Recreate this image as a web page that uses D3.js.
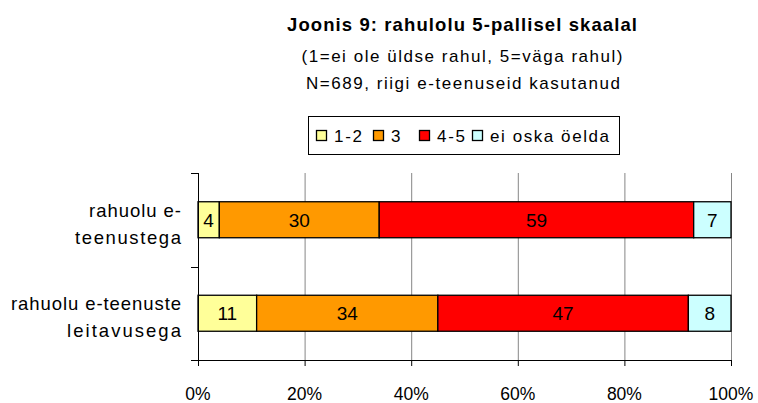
<!DOCTYPE html>
<html>
<head>
<meta charset="utf-8">
<script src="https://cdn.jsdelivr.net/npm/d3@7"></script>
<style>
  body { margin: 0; background: #fff; }
  text { font-family: "Liberation Sans", Arial, sans-serif; fill: #000; }
</style>
</head>
<body>
<svg id="chart" width="758" height="403"></svg>
<script>
var categories = ["rahuolu e-teenustega", "rahuolu e-teenuste leitavusega"];
var categoryLines = [["rahuolu e-", "teenustega"], ["rahuolu e-teenuste", "leitavusega"]];
var seriesNames = ["1-2", "3", "4-5", "ei oska öelda"];
var seriesColors = ["#ffff99", "#ff9900", "#ff0000", "#ccffff"];
var values = [
  [4, 30, 59, 7],
  [11, 34, 47, 8]
];
var xTicks = [0, 20, 40, 60, 80, 100];

var svg = d3.select('#chart');

var x = d3.scaleLinear().domain([0, 100]).range([198, 731]);
var y = d3.scaleBand().domain(categories).range([173, 360])
  .paddingInner(0.615).paddingOuter(0.3075);

// stretch text a bit, Excel renders with loose spacing
function spread(sel, w) {
  sel.attr('textLength', w).attr('lengthAdjust', 'spacing');
}

// titles
svg.append('text')
  .attr('x', 462).attr('y', 31)
  .attr('text-anchor', 'middle')
  .style('font-size', '18.5px').style('font-weight', 'bold')
  .text('Joonis 9: rahulolu 5-pallisel skaalal')
  .call(spread, 350);
svg.append('text')
  .attr('x', 462).attr('y', 62)
  .attr('text-anchor', 'middle')
  .style('font-size', '17px')
  .text('(1=ei ole üldse rahul, 5=väga rahul)')
  .call(spread, 321);
svg.append('text')
  .attr('x', 463).attr('y', 89)
  .attr('text-anchor', 'middle')
  .style('font-size', '17px')
  .text('N=689, riigi e-teenuseid kasutanud')
  .call(spread, 314);

// gridlines
svg.append('g')
  .selectAll('line')
  .data(xTicks.slice(1))
  .enter().append('line')
  .attr('x1', function(d) { return x(d) + 0.5; })
  .attr('x2', function(d) { return x(d) + 0.5; })
  .attr('y1', 173).attr('y2', 360)
  .style('stroke', '#868686').style('stroke-width', 1);

// bars
var rows = svg.append('g').selectAll('g')
  .data(values)
  .enter().append('g');

rows.each(function(row, i) {
  var start = 0;
  var segs = row.map(function(v, j) {
    var s = { x0: start, x1: start + v, v: v, j: j };
    start += v;
    return s;
  });
  var g = d3.select(this);
  g.selectAll('rect')
    .data(segs)
    .enter().append('rect')
    .attr('x', function(d) { return x(d.x0); })
    .attr('width', function(d) { return x(d.x1) - x(d.x0); })
    .attr('y', y(categories[i]))
    .attr('height', y.bandwidth())
    .style('fill', function(d) { return seriesColors[d.j]; })
    .style('stroke', '#000').style('stroke-width', 1.3);
  g.selectAll('text')
    .data(segs)
    .enter().append('text')
    .attr('x', function(d) { return (x(d.x0) + x(d.x1)) / 2; })
    .attr('y', y(categories[i]) + y.bandwidth() / 2 + 7)
    .attr('text-anchor', 'middle')
    .style('font-size', '19px')
    .text(function(d) { return d.v; });
});

// axes
svg.append('line')
  .attr('x1', 198.5).attr('x2', 198.5).attr('y1', 173).attr('y2', 360)
  .style('stroke', '#000');
svg.append('line')
  .attr('x1', 198).attr('x2', 731.5).attr('y1', 360.5).attr('y2', 360.5)
  .style('stroke', '#000');

// y ticks at category boundaries
var yBounds = [173, 173 + y.step(), 360];
svg.append('g').selectAll('line')
  .data(yBounds)
  .enter().append('line')
  .attr('x1', 191).attr('x2', 198)
  .attr('y1', function(d) { return Math.round(d) + 0.5; })
  .attr('y2', function(d) { return Math.round(d) + 0.5; })
  .style('stroke', '#000');

// x ticks + labels
var xt = svg.append('g').selectAll('g')
  .data(xTicks)
  .enter().append('g');
xt.append('line')
  .attr('x1', function(d) { return x(d) + 0.5; })
  .attr('x2', function(d) { return x(d) + 0.5; })
  .attr('y1', 360).attr('y2', 366)
  .style('stroke', '#000');
xt.append('text')
  .attr('x', function(d) { return x(d); })
  .attr('y', 400)
  .attr('text-anchor', 'middle')
  .style('font-size', '17.5px')
  .text(function(d) { return d + '%'; });

// category labels
var catWidths = [[92, 106], [170, 114]];
categoryLines.forEach(function(lines, i) {
  var top = y(categories[i]) + y.bandwidth() / 2;
  lines.forEach(function(line, k) {
    svg.append('text')
      .attr('text-anchor', 'end')
      .attr('x', 181)
      .attr('y', top - 3 + k * 27)
      .style('font-size', '18.5px')
      .text(line)
      .call(spread, catWidths[i][k]);
  });
});

// legend
var legend = svg.append('g');
legend.append('rect')
  .attr('x', 308.5).attr('y', 116.5).attr('width', 311).attr('height', 38)
  .style('fill', '#fff').style('stroke', '#000');
var lx = [316, 373, 419, 472];
var lw = [28, 10, 28, 119];
seriesNames.forEach(function(name, i) {
  legend.append('rect')
    .attr('x', lx[i] + 0.5).attr('y', 130.5).attr('width', 10).attr('height', 10)
    .style('fill', seriesColors[i]).style('stroke', '#000').style('stroke-width', 1.3);
  legend.append('text')
    .attr('x', lx[i] + 18).attr('y', 142)
    .style('font-size', '17px')
    .text(name)
    .call(spread, lw[i]);
});
</script>
</body>
</html>
